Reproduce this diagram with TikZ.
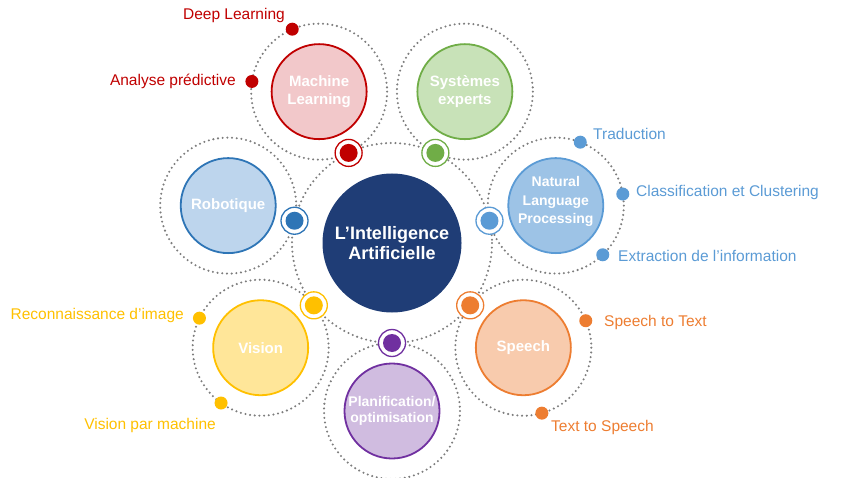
\documentclass[tikz,border=0pt]{standalone}
\usepackage{fontspec}
\setmainfont{Liberation Sans}
\usetikzlibrary{calc}
\definecolor{dotgray}{RGB}{125,125,125}
\definecolor{centerc}{RGB}{31,61,118}
\definecolor{mlc}{RGB}{192,0,0}
\definecolor{mlf}{RGB}{242,200,202}
\definecolor{sec}{RGB}{112,173,71}
\definecolor{sef}{RGB}{200,226,184}
\definecolor{nlpc}{RGB}{91,155,213}
\definecolor{nlpf}{RGB}{157,195,230}
\definecolor{spc}{RGB}{237,125,49}
\definecolor{spf}{RGB}{248,203,173}
\definecolor{plc}{RGB}{112,48,160}
\definecolor{plf}{RGB}{208,188,224}
\definecolor{vic}{RGB}{255,192,0}
\definecolor{vif}{RGB}{255,230,153}
\definecolor{roc}{RGB}{46,117,182}
\definecolor{rof}{RGB}{189,213,237}
\begin{document}
\begin{tikzpicture}[x=1pt,y=-1pt,
  ring/.style={draw=dotgray, line width=2.3pt, dash pattern=on 0pt off 4.7pt, line cap=round},
  sat/.style={circle, minimum size=95pt, line width=1.8pt, inner sep=0pt, text=white, align=center,
    font=\bfseries\fontsize{15}{17.5}\selectfont},
  subdot/.style={circle, minimum size=13pt, inner sep=0pt},
  mring/.style={circle, minimum size=27pt, inner sep=0pt, fill=white, line width=1.3pt},
  mdot/.style={circle, minimum size=18pt, inner sep=0pt},
  lbl/.style={font=\fontsize{15.5}{18}\selectfont, inner sep=0pt}]
\useasboundingbox (0,0) rectangle (850,478);
\coordinate (C) at (392,243);
% satellite centres
\coordinate (ml) at ($(C)+(-115.71:168)$);
\coordinate (se) at ($(C)+(-64.29:168)$);
\coordinate (nlp) at ($(C)+(-12.86:168)$);
\coordinate (sp) at ($(C)+(38.57:168)$);
\coordinate (pl) at ($(C)+(90:168)$);
\coordinate (vi) at ($(C)+(141.43:168)$);
\coordinate (ro) at ($(C)+(192.86:168)$);
% dotted rings
\draw[ring] (C) circle[radius=100];
\foreach \s in {ml,se,nlp,sp,pl,vi,ro}{\draw[ring] (\s) circle[radius=68];}
% centre
\node[circle, fill=centerc, minimum size=139pt, inner sep=0pt, text=white, align=center,
  font=\bfseries\fontsize{18}{20.5}\selectfont] (ai) at (C) {L’Intelligence\\Artificielle};
% satellites
\node[sat, draw=mlc, fill=mlf] (mln) at (ml) {Machine\\Learning};
\node[sat, draw=sec, fill=sef] (sen) at (se) {Systèmes\\experts};
\node[sat, draw=nlpc, fill=nlpf] (nlpn) at (nlp) {};
\node[text=white, align=center, inner sep=0pt, font=\bfseries\fontsize{14}{18.5}\selectfont] (nlpt) at ($(nlp)+(0,-4)$) {Natural\\Language\\Processing};
\node[sat, draw=spc, fill=spf] (spn) at (sp) {Speech};
\node[sat, draw=plc, fill=plf, font=\bfseries\fontsize{14}{15.5}\selectfont] (pln) at (pl) {Planification/\\optimisation};
\node[sat, draw=vic, fill=vif] (vin) at (vi) {Vision};
\node[sat, draw=roc, fill=rof] (ron) at (ro) {Robotique};
% markers on central ring
\foreach \a/\c/\n in {-115.71/mlc/m1, -64.29/sec/m2, -12.86/nlpc/m3, 38.57/spc/m4, 90/plc/m5, 141.43/vic/m6, 192.86/roc/m7}{
  \node[mring, draw=\c] (\n r) at ($(C)+(\a:100)$) {};
  \node[mdot, fill=\c] (\n d) at (\n r) {};
}
% sub-item dots
\node[subdot, fill=mlc] (dl) at ($(ml)+(246.7:68)$) {};
\node[subdot, fill=mlc] (ap) at ($(ml)+(188.6:68)$) {};
\node[subdot, fill=nlpc] (tr) at ($(nlp)+(-68.9:68)$) {};
\node[subdot, fill=nlpc] (cc) at ($(nlp)+(-9.8:68)$) {};
\node[subdot, fill=nlpc] (ei) at ($(nlp)+(46.3:68)$) {};
\node[subdot, fill=spc] (stt) at ($(sp)+(-23.4:68)$) {};
\node[subdot, fill=spc] (tts) at ($(sp)+(74.2:68)$) {};
\node[subdot, fill=vic] (ri) at ($(vi)+(205.8:68)$) {};
\node[subdot, fill=vic] (vm) at ($(vi)+(125.6:68)$) {};
% labels
\node[lbl, text=mlc, anchor=mid east] (dlt) at (285,16.5) {Deep Learning};
\node[lbl, text=mlc, anchor=mid east] (apt) at (236,82.5) {Analyse prédictive};
\node[lbl, text=nlpc, anchor=mid west] (trt) at (593,136.5) {Traduction};
\node[lbl, text=nlpc, anchor=mid west] (cct) at (636,193.5) {Classification et Clustering};
\node[lbl, text=nlpc, anchor=mid west] (eit) at (618,258.5) {Extraction de l’information};
\node[lbl, text=spc, anchor=mid west] (sttt) at (604,323.5) {Speech to Text};
\node[lbl, text=spc, anchor=mid west] (ttst) at (551,428.5) {Text to Speech};
\node[lbl, text=vic, anchor=mid east] (rit) at (184,316.5) {Reconnaissance d’image};
\node[lbl, text=vic, anchor=mid east] (vmt) at (216,426.5) {Vision par machine};
\end{tikzpicture}
\end{document}
